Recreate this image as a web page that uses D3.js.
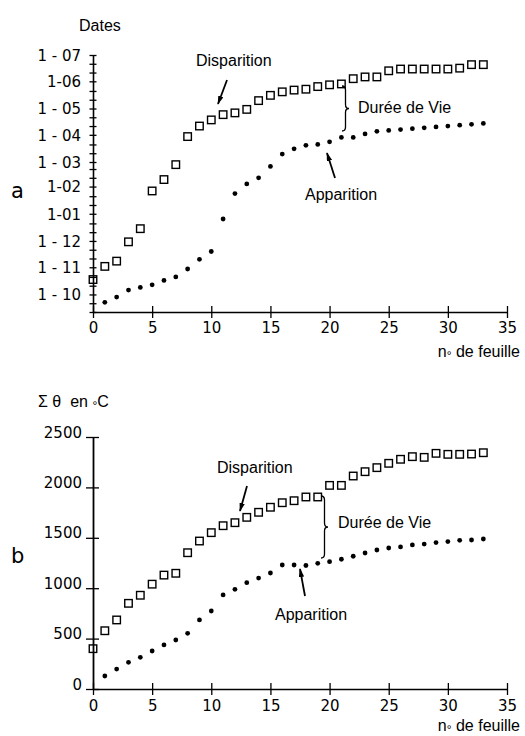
<!DOCTYPE html>
<html>
<head>
<meta charset="utf-8">
<script src="https://cdn.jsdelivr.net/npm/d3@7"></script>
<style>
  body { margin: 0; background: #fff; }
  .lbl { font-family: "Liberation Sans", Arial, sans-serif; font-size: 16px; fill: #000; white-space: pre; }
  .num { font-family: "DejaVu Sans", sans-serif; font-size: 15px; fill: #000; }
  .big { font-family: "DejaVu Sans", sans-serif; font-size: 21px; fill: #000; }
</style>
</head>
<body>
<svg width="525" height="736"></svg>
<script>
// n° de feuille
const leafDisp = [0,1,2,3,4,5,6,7,8,9,10,11,12,13,14,15,16,17,18,19,20,21,22,23,24,25,26,27,28,29,30,31,32,33];
const leafApp = [1,2,3,4,5,6,7,8,9,10,11,12,13,14,15,16,17,18,19,20,21,22,23,24,25,26,27,28,29,30,31,32,33];

// a : dates de disparition / apparition
const dispDates = ["1990-10-18","1990-11-02","1990-11-08","1990-11-30","1990-12-15","1991-01-27","1991-02-09","1991-02-26",
  "1991-03-30","1991-04-11","1991-04-18","1991-04-24","1991-04-26","1991-04-30","1991-05-10","1991-05-16","1991-05-20",
  "1991-05-22","1991-05-23","1991-05-26","1991-05-28","1991-05-29","1991-06-04","1991-06-06","1991-06-06","1991-06-13",
  "1991-06-15","1991-06-15","1991-06-15","1991-06-15","1991-06-15","1991-06-16","1991-06-20","1991-06-20"];
const appDates = ["1990-09-22","1990-09-28","1990-10-06","1990-10-09","1990-10-12","1990-10-17","1990-10-21","1990-10-30",
  "1990-11-10","1990-11-19","1990-12-26","1991-01-24","1991-02-04","1991-02-11","1991-02-24","1991-03-10","1991-03-16",
  "1991-03-20","1991-03-21","1991-03-24","1991-03-29","1991-03-29","1991-04-02","1991-04-05","1991-04-06","1991-04-07",
  "1991-04-08","1991-04-09","1991-04-10","1991-04-11","1991-04-12","1991-04-13","1991-04-14"];

// b : somme de températures
const dispSum = [400,578,685,850,930,1040,1130,1148,1352,1468,1551,1620,1650,1703,1753,1803,1848,1868,1905,1905,
  2020,2020,2113,2156,2196,2239,2279,2305,2298,2338,2328,2328,2331,2344];
const appSum = [129,198,265,314,377,437,486,552,685,774,933,989,1055,1100,1151,1230,1230,1225,1247,1263,1287,1317,
  1349,1379,1399,1409,1429,1438,1453,1463,1475,1478,1488];

// ticks
const leafTicks = [0,5,10,15,20,25,30,35];
const sumTicks = [0,500,1000,1500,2000,2500];
const monthTicks = ["1990-10-01","1990-11-01","1990-12-01","1991-01-01","1991-02-01","1991-03-01","1991-04-01","1991-05-01","1991-06-01","1991-07-01"];
const monthLabels = ["1 - 10","1 - 11","1 - 12","1-01","1-02","1 - 03","1 - 04","1 - 05","1-06","1 - 07"];

const parse = d3.utcParse("%Y-%m-%d");
const svg = d3.select("svg");
svg.append("rect").attr("width", 525).attr("height", 736).attr("fill", "#fff");

const x = d3.scaleLinear().domain([0, 35]).range([93, 507]);
const yDate = d3.scaleUtc().domain([parse("1990-09-11"), parse("1991-07-01")]).range([312, 55]);
const ySum = d3.scaleLinear().domain([0, 2500]).range([689, 437]);

// fleche
svg.append("defs").append("marker")
  .attr("id", "ah").attr("viewBox", "0 0 10 6").attr("refX", 9).attr("refY", 3)
  .attr("markerWidth", 9).attr("markerHeight", 5.4).attr("markerUnits", "userSpaceOnUse")
  .attr("orient", "auto")
  .append("path").attr("d", "M0,0 L10,3 L0,6 Z").attr("fill", "#000");

function xAxis(y0, labelY) {
  const g = svg.append("g").attr("transform", `translate(0,${y0})`)
    .call(d3.axisBottom(x).tickValues(leafTicks).tickSize(6).tickSizeOuter(0));
  g.select(".domain").attr("stroke-width", 1.6);
  g.selectAll(".tick line").attr("y1", -6).attr("stroke-width", 1.3);
  g.selectAll(".tick text").attr("y", labelY).attr("dy", null).attr("class", "num");
}

// ---------- a ----------
xAxis(312, 21);

const monthTime = monthTicks.map(s => +parse(s));
const dayTicks = d3.utcDay.every(10)
  .range(yDate.domain()[0], d3.utcDay.offset(yDate.domain()[1], 1))
  .filter(d => d.getUTCDate() !== 31);

const gy1 = svg.append("g").attr("transform", "translate(93,0)")
  .call(d3.axisLeft(yDate).tickValues(dayTicks).tickSize(3.5).tickSizeOuter(0)
    .tickFormat(d => { const i = monthTime.indexOf(+d); return i >= 0 ? monthLabels[i] : ""; }));
gy1.select(".domain").attr("stroke-width", 1.6);
gy1.selectAll(".tick line").attr("x1", 3.5).attr("stroke-width", 1.3);
gy1.selectAll(".tick text").attr("x", -12).attr("dy", "0.36em").attr("class", "num");

const topDisp = leafDisp.map((n, i) => ({ n, v: parse(dispDates[i]) }));
const topApp = leafApp.map((n, i) => ({ n, v: parse(appDates[i]) }));

svg.selectAll("rect.dispA").data(topDisp).join("rect").attr("class", "dispA")
  .attr("x", d => x(d.n) - 3.75).attr("y", d => yDate(d.v) - 3.75)
  .attr("width", 7.5).attr("height", 7.5)
  .attr("fill", "none").attr("stroke", "#000").attr("stroke-width", 1.4);
svg.selectAll("circle.appA").data(topApp).join("circle").attr("class", "appA")
  .attr("cx", d => x(d.n)).attr("cy", d => yDate(d.v)).attr("r", 2.4).attr("fill", "#000");

// ---------- b ----------
xAxis(689, 22);

const gy2 = svg.append("g").attr("transform", "translate(93,0)")
  .call(d3.axisLeft(ySum).tickValues(sumTicks).tickSize(7).tickSizeOuter(0).tickFormat(d3.format("d")));
gy2.select(".domain").attr("stroke-width", 1.8);
gy2.selectAll(".tick line").attr("x1", 6).attr("stroke-width", 1.3);
gy2.selectAll(".tick text").attr("x", -11).attr("dy", "0").attr("class", "num");

const botDisp = leafDisp.map((n, i) => ({ n, v: dispSum[i] }));
const botApp = leafApp.map((n, i) => ({ n, v: appSum[i] }));

svg.selectAll("rect.dispB").data(botDisp).join("rect").attr("class", "dispB")
  .attr("x", d => x(d.n) - 3.75).attr("y", d => ySum(d.v) - 3.75)
  .attr("width", 7.5).attr("height", 7.5)
  .attr("fill", "none").attr("stroke", "#000").attr("stroke-width", 1.4);
svg.selectAll("circle.appB").data(botApp).join("circle").attr("class", "appB")
  .attr("cx", d => x(d.n)).attr("cy", d => ySum(d.v)).attr("r", 2.4).attr("fill", "#000");

// ---------- textes et annotations ----------
function txt(s, px, py, cls, anchor) {
  return svg.append("text").attr("class", cls).attr("x", px).attr("y", py)
    .attr("text-anchor", anchor || "start").text(s);
}
function arrow(x1, y1, x2, y2) {
  svg.append("line").attr("x1", x1).attr("y1", y1).attr("x2", x2).attr("y2", y2)
    .attr("stroke", "#000").attr("stroke-width", 1.8).attr("marker-end", "url(#ah)");
}
// accolade "}"
function brace(bx, y1, y2, w) {
  const ym = (y1 + y2) / 2, r = 4, h = bx + w / 2;
  const d = `M${bx},${y1} Q${h},${y1} ${h},${y1 + r} L${h},${ym - r} Q${h},${ym} ${bx + w},${ym}` +
            ` Q${h},${ym} ${h},${ym + r} L${h},${y2 - r} Q${h},${y2} ${bx},${y2}`;
  svg.append("path").attr("d", d).attr("fill", "none").attr("stroke", "#000").attr("stroke-width", 1.3);
}
function feuille(py) {
  const t = svg.append("text").attr("class", "lbl").attr("x", 520).attr("y", py).attr("text-anchor", "end");
  t.append("tspan").text("n");
  t.append("tspan").attr("dy", 3).attr("font-size", 12).text("°");
  t.append("tspan").attr("dy", -3).text(" de feuille");
}

// a
txt("Dates", 79, 31, "lbl");
txt("a", 11, 198, "big");
txt("Disparition", 196, 66, "lbl");
arrow(227, 80, 218, 104);
brace(342, 86, 131, 7);
txt("Durée de Vie", 358, 113, "lbl");
arrow(335, 178, 327, 153);
txt("Apparition", 305, 200, "lbl");
feuille(357);

// b
const s1 = svg.append("text").attr("class", "lbl").attr("x", 38).attr("y", 407);
s1.append("tspan").text("Σ θ  en ");
s1.append("tspan").attr("dy", 3).attr("font-size", 12).text("°");
s1.append("tspan").attr("dy", -3).text("C");
txt("b", 11, 563, "big");
txt("Disparition", 217, 473, "lbl");
arrow(247, 486, 240, 511);
brace(321, 496, 558, 7);
txt("Durée de Vie", 338, 528, "lbl");
arrow(305, 596, 300, 569);
txt("Apparition", 275, 620, "lbl");
feuille(731);
</script>
</body>
</html>
